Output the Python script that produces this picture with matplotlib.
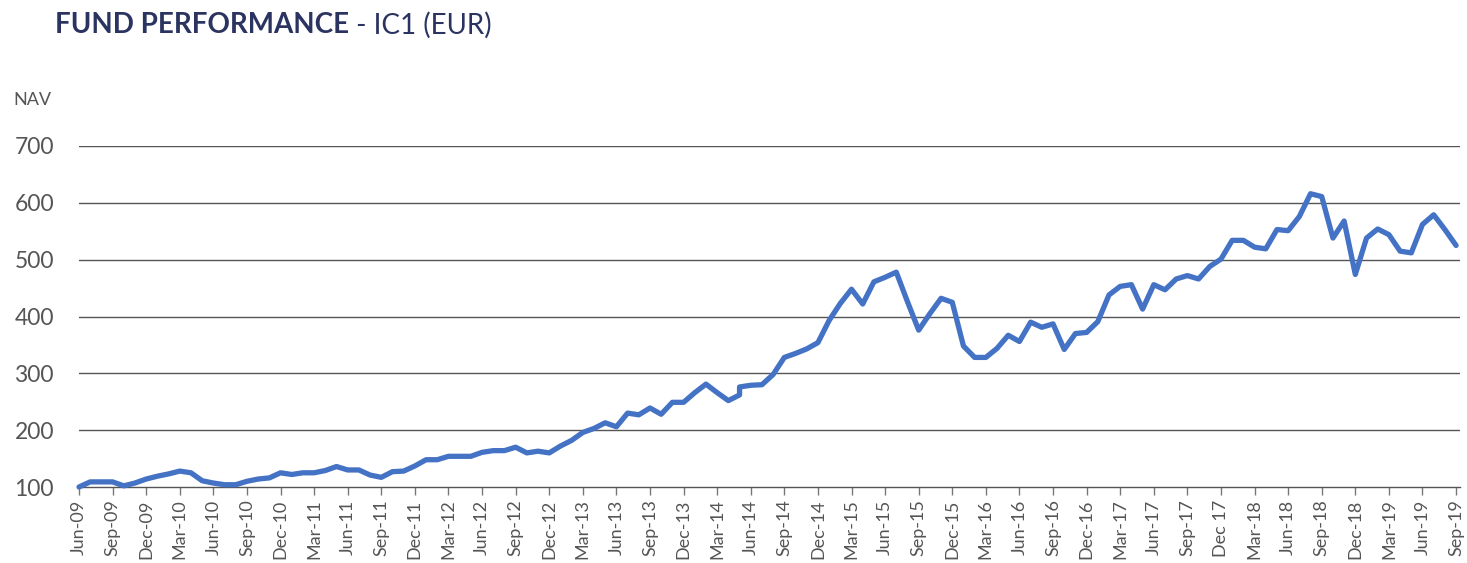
import matplotlib
matplotlib.use("Agg")
import matplotlib.pyplot as plt
import numpy as np
import pandas as pd

plt.rcParams['font.family'] = ['Lato', 'DejaVu Sans']

# monthly NAV, Jun-09 .. Sep-19 (May-14 has two prints)
months = pd.period_range("2009-06", "2019-09", freq="M")
double_month = pd.Period("2014-05", "M")
nav = [100, 109, 109, 109, 102, 107, 114, 119, 123, 128, 125, 111,
       107, 104, 104, 110, 114, 116, 125, 122, 125, 125, 129, 136,
       130, 130, 121, 117, 127, 128, 137, 148, 148, 154, 154, 154,
       161, 164, 164, 170, 160, 163, 160, 172, 182, 196, 203, 213,
       206, 230, 227, 239, 228, 249, 249, 266, 281, 266, 252, 262, 276,
       279, 280, 298, 328, 335, 343, 354, 393, 423, 448, 422, 461,
       469, 478, 426, 376, 405, 432, 425, 348, 328, 328, 344, 367,
       356, 390, 381, 387, 342, 370, 372, 391, 438, 453, 456, 413,
       456, 447, 466, 472, 466, 488, 501, 534, 534, 522, 519, 553,
       551, 576, 616, 611, 538, 568, 474, 538, 554, 544, 515, 512,
       562, 579, 553, 525]

tick_labels = ["Jun-09", "Sep-09", "Dec-09", "Mar-10", "Jun-10", "Sep-10",
               "Dec-10", "Mar-11", "Jun-11", "Sep-11", "Dec-11", "Mar-12",
               "Jun-12", "Sep-12", "Dec-12", "Mar-13", "Jun-13", "Sep-13",
               "Dec-13", "Mar-14", "Jun-14", "Sep-14", "Dec-14", "Mar-15",
               "Jun-15", "Sep-15", "Dec-15", "Mar-16", "Jun-16", "Sep-16",
               "Dec-16", "Mar-17", "Jun-17", "Sep-17", "Dec 17", "Mar-18",
               "Jun-18", "Sep-18", "Dec-18", "Mar-19", "Jun-19", "Sep-19"]

x = np.arange(len(months), dtype=float)
k = months.get_loc(double_month)
x = np.insert(x, k, x[k])

grey = '#555555'
navy = '#2b3461'

fig = plt.figure(figsize=(14.67, 5.63), dpi=100)
ax = fig.add_axes([79 / 1467, 76 / 563, (1460 - 79) / 1467, (487 - 146) / 563])

for v in range(200, 701, 100):
    ax.axhline(v, color=grey, linewidth=1, zorder=1)

ax.plot(x, nav, color='#4472C4', linewidth=3.8, solid_joinstyle='round',
        solid_capstyle='round', clip_on=False, zorder=3)

ax.set_xlim(0, 123.35)
ax.set_ylim(100, 700)
ax.set_yticks(range(100, 701, 100))
ax.set_xticks(np.arange(0, len(months), 3))
ax.set_xticklabels(tick_labels, rotation=90)

for s in ['top', 'right', 'left']:
    ax.spines[s].set_visible(False)
ax.spines['bottom'].set_color(grey)
ax.spines['bottom'].set_linewidth(1)

ax.tick_params(axis='y', length=0, pad=18, labelsize=16.5, labelcolor=grey)
ax.tick_params(axis='x', length=6, width=1, color='#777777', pad=3,
               labelsize=13, labelcolor=grey)

# Add titles and labels
t1 = fig.text(55 / 1467, 1 - 25 / 563, "FUND PERFORMANCE", fontsize=20,
              fontweight='bold', color=navy, va='center')
ax.annotate(" - IC1 (EUR)", xy=(1, 0.5), xycoords=t1, fontsize=20,
            color=navy, va='center', annotation_clip=False)
fig.text(13 / 1467, 1 - 100 / 563, "NAV", fontsize=13, color=grey, va='center')

fig.savefig('out.png', dpi=100)
